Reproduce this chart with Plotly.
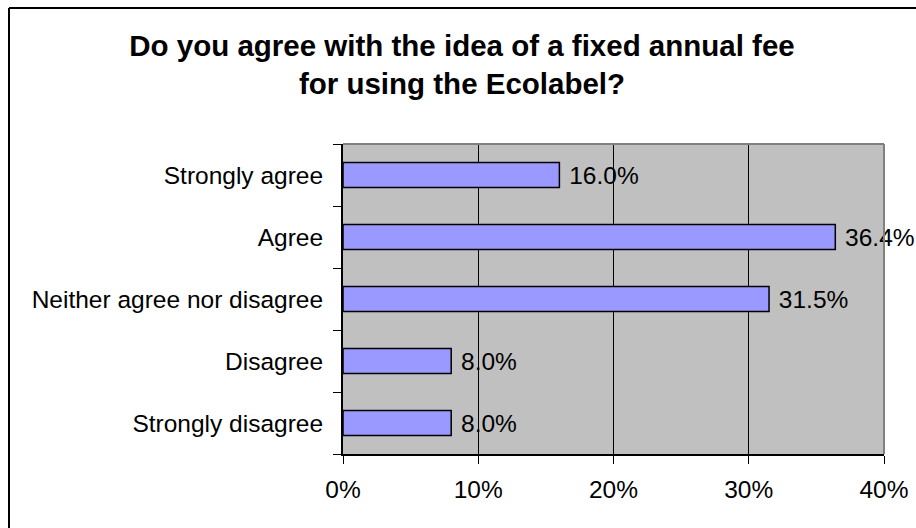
import plotly.graph_objects as go

# Survey responses, listed top to bottom
categories = ["Strongly agree", "Agree", "Neither agree nor disagree", "Disagree", "Strongly disagree"]
shares = [16.0, 36.4, 31.5, 8.0, 8.0]
x_ticks = [0, 10, 20, 30, 40]
x_tick_labels = ["0%", "10%", "20%", "30%", "40%"]

FONT = "Liberation Sans, Arial, sans-serif"
W, H = 916, 528
L, R, T, B = 343, 32, 144, 74

fig = go.Figure(
    go.Bar(
        y=categories,
        x=shares,
        orientation="h",
        width=0.4,
        marker=dict(color="#9999FF", line=dict(color="#000000", width=1.5)),
        text=[f"{v:.1f}%" for v in shares],
        texttemplate=" %{text}",
        textposition="outside",
        textfont=dict(family=FONT, size=24.5, color="#000000"),
        constraintext="none",
        cliponaxis=False,
    )
)

fig.update_layout(
    width=W,
    height=H,
    margin=dict(l=L, r=R, t=T, b=B, pad=0, autoexpand=False),
    paper_bgcolor="#FFFFFF",
    plot_bgcolor="#C0C0C0",
    showlegend=False,
    font=dict(family=FONT, size=24.5, color="#000000"),
    title=dict(
        text="<b>Do you agree with the idea of a fixed annual fee<br>for using the Ecolabel?</b>",
        font=dict(family=FONT, size=29.5, color="#000000"),
        x=462 / W,
        xref="container",
        xanchor="center",
        y=1 - 56 / H,
        yref="container",
        yanchor="top",
    ),
    xaxis=dict(
        range=[0, 40],
        tickvals=x_ticks,
        ticktext=x_tick_labels,
        showgrid=True,
        gridcolor="#000000",
        gridwidth=1,
        zeroline=False,
        showline=True,
        linecolor="#000000",
        linewidth=2,
        ticks="outside",
        ticklen=8,
        tickwidth=1,
        tickcolor="#000000",
        ticklabelstandoff=5,
        automargin=False,
        fixedrange=True,
    ),
    yaxis=dict(
        categoryorder="array",
        categoryarray=categories[::-1],
        tickson="boundaries",
        showgrid=False,
        zeroline=False,
        showline=True,
        linecolor="#000000",
        linewidth=2,
        ticks="outside",
        ticklen=8,
        tickwidth=1,
        tickcolor="#000000",
        ticklabelstandoff=13,
        automargin=False,
        fixedrange=True,
    ),
    shapes=[
        # top and right edges of the plotting area
        dict(type="line", xref="paper", yref="paper", x0=0, x1=1, y0=1, y1=1,
             line=dict(color="#808080", width=2), layer="above"),
        dict(type="line", xref="paper", yref="paper", x0=1, x1=1, y0=0, y1=1,
             line=dict(color="#808080", width=2), layer="above"),
        # chart frame (left and top edges)
        dict(type="line", xref="paper", yref="paper",
             x0=(9 - L) / (W - L - R), x1=(W + 20 - L) / (W - L - R),
             y0=(H - B - 8) / (H - T - B), y1=(H - B - 8) / (H - T - B),
             line=dict(color="#000000", width=2), layer="above"),
        dict(type="line", xref="paper", yref="paper",
             x0=(9 - L) / (W - L - R), x1=(9 - L) / (W - L - R),
             y0=(H - B - 8) / (H - T - B), y1=(H - B - H - 20) / (H - T - B),
             line=dict(color="#000000", width=2), layer="above"),
    ],
)

fig.write_html("out.html")
